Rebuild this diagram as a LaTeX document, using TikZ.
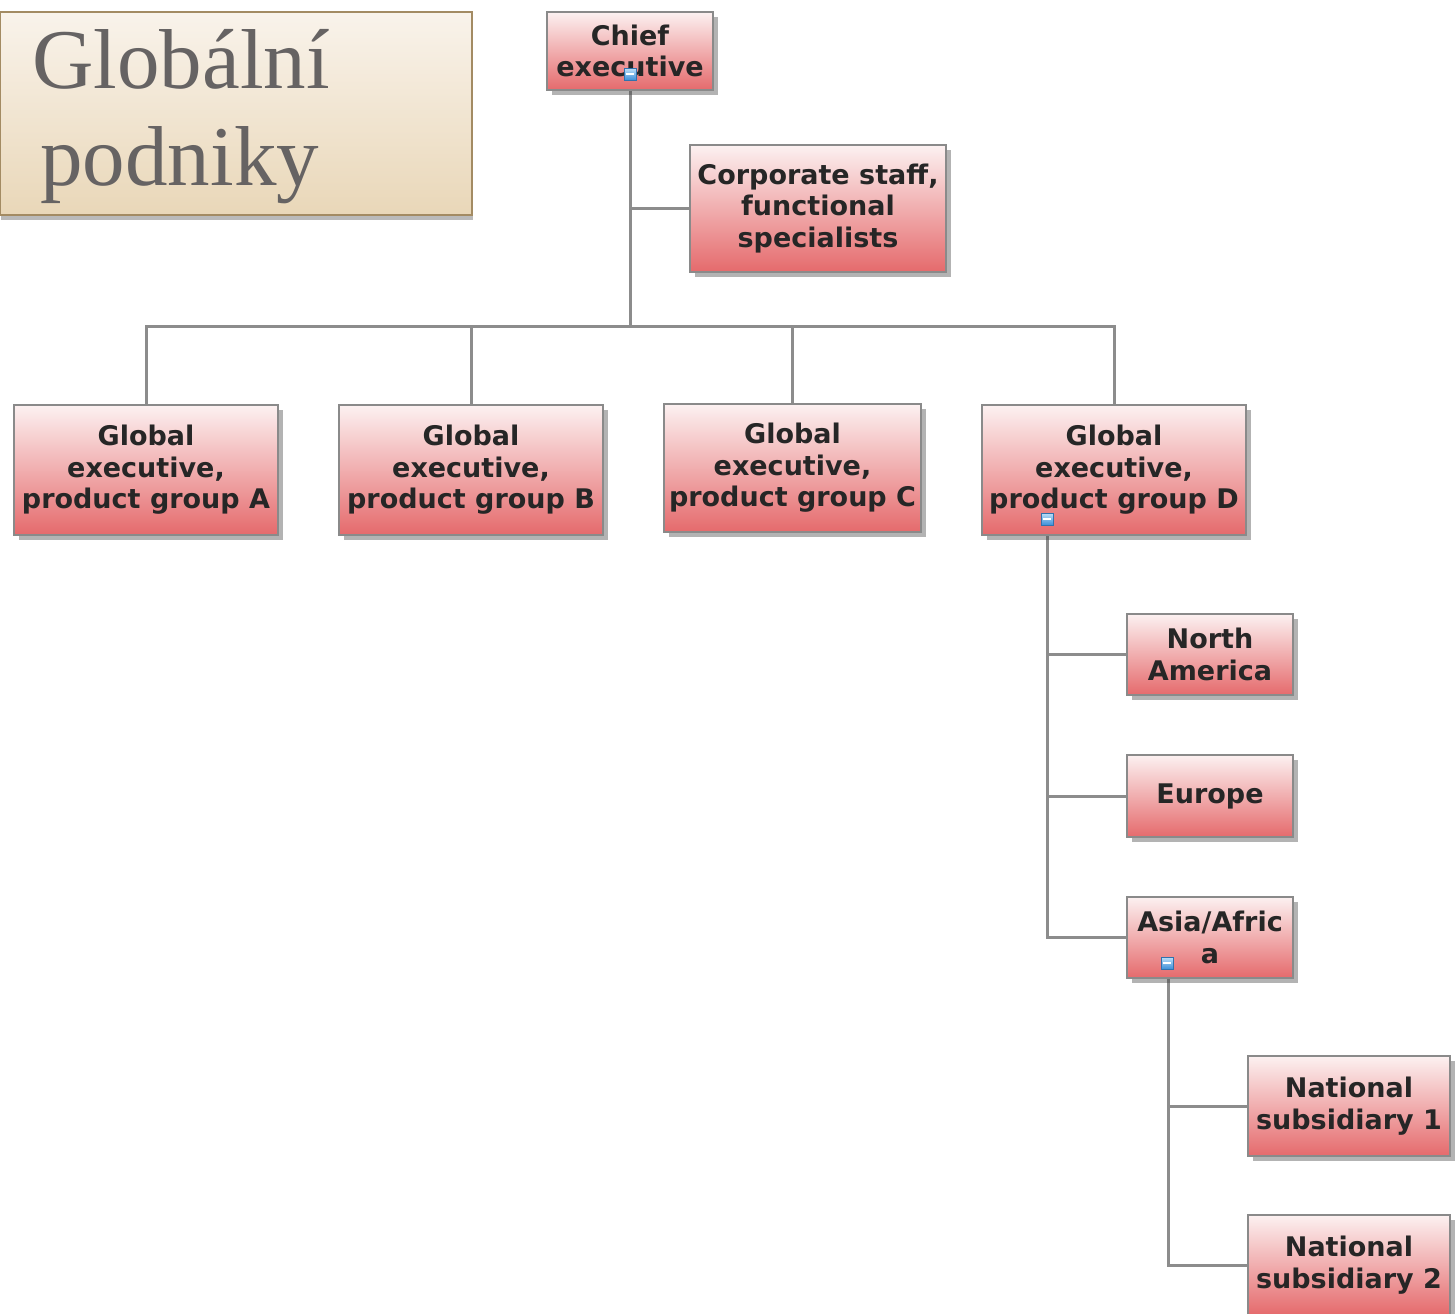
\documentclass[tikz,border=0pt]{standalone}
\usepackage{fontspec}
\setmainfont{Liberation Serif}
\newfontfamily\boxfont{DejaVu Sans}
\usetikzlibrary{shadows}
\pgfdeclarelayer{bg}
\pgfsetlayers{bg,main}
\definecolor{boxtop}{HTML}{FCF1F1}
\definecolor{boxbot}{HTML}{E56A6C}
\definecolor{boxedge}{HTML}{8A8A8A}
\definecolor{linec}{HTML}{8C8C8C}
\definecolor{titletop}{HTML}{F9F3EB}
\definecolor{titlebot}{HTML}{E9D7B8}
\definecolor{titleedge}{HTML}{A38B63}
\definecolor{titletext}{HTML}{666363}
\definecolor{togtop}{HTML}{BFE0F8}
\definecolor{togbot}{HTML}{3C8FD8}
\tikzset{
  orgbox/.style={draw=boxedge, line width=1pt, top color=boxtop, bottom color=boxbot,
    align=center, font=\boxfont\bfseries\fontsize{13.5}{15.8}\selectfont, text=black!85,
    inner sep=0pt, drop shadow={shadow xshift=2.5pt, shadow yshift=-2.5pt, opacity=0.4, fill=black!75}},
  titlebox/.style={draw=titleedge, line width=0.8pt, top color=titletop, bottom color=titlebot,
    inner sep=0pt, drop shadow={shadow xshift=0.5pt, shadow yshift=-2.5pt, opacity=0.45, fill=black!60}},
  titletxt/.style={align=left, font=\fontsize{42.5}{48.5}\selectfont, text=titletext, inner sep=0pt},
  conn/.style={draw=linec, line width=1.5pt},
  toggle/.style={draw=togbot!80!black, line width=0.3pt, top color=togtop, bottom color=togbot,
    minimum width=6pt, minimum height=6pt, inner sep=0pt,
    path picture={\draw[white, line width=0.8pt] ([xshift=-1.8pt]path picture bounding box.center) -- ([xshift=1.8pt]path picture bounding box.center);}}
}
\begin{document}
\begin{tikzpicture}[x=0.5pt, y=-0.5pt]
\useasboundingbox (0,0) rectangle (1455,1313);
% title
\node[titlebox, minimum width=236pt, minimum height=101.5pt] (title) at (236,113.5) {};
\node[titletxt, anchor=base west] (titletext) at (32,185) {Globální\\\hspace{4pt}podniky};
% org boxes
\node[orgbox, minimum width=83pt, minimum height=39pt] (chief) at (630,51) {Chief\\executive};
\node[orgbox, minimum width=128pt, minimum height=63.5pt] (corp) at (818,208.5) {Corporate staff,\\functional\\specialists};
\node[orgbox, minimum width=132pt, minimum height=65pt] (A) at (146,470) {Global\\executive,\\product group A};
\node[orgbox, minimum width=132pt, minimum height=65pt] (B) at (471,470) {Global\\executive,\\product group B};
\node[orgbox, minimum width=128.5pt, minimum height=64pt] (C) at (792.5,468) {Global\\executive,\\product group C};
\node[orgbox, minimum width=132pt, minimum height=65pt] (D) at (1114,470) {Global\\executive,\\product group D};
\node[orgbox, minimum width=83pt, minimum height=40.5pt] (NA) at (1210,654.5) {North\\America};
\node[orgbox, minimum width=83pt, minimum height=41pt] (EU) at (1210,796) {Europe};
\node[orgbox, minimum width=83pt, minimum height=40.5pt] (AA) at (1210,937.5) {Asia/Afric\\a};
\node[orgbox, minimum width=101pt, minimum height=50pt] (NS1) at (1349,1106) {National\\subsidiary 1};
\node[orgbox, minimum width=101pt, minimum height=50pt] (NS2) at (1349,1265) {National\\subsidiary 2};
% ports
\coordinate (bus) at (630,326);
\coordinate (Dport) at ([xshift=-33.5pt]D.south);
\coordinate (AAport) at ([xshift=-21pt]AA.south);
% toggles
\node[toggle] (tchief) at ([yshift=8.5pt]chief.south) {};
\node[toggle] (tD) at ([yshift=8.5pt]Dport) {};
\node[toggle] (tAA) at ([xshift=-0.5pt,yshift=8pt]AAport) {};
% connectors
\begin{pgfonlayer}{bg}
\draw[conn] (chief.south) -- (bus);
\draw[conn] (chief.south |- corp.west) -- (corp.west);
\draw[conn] (A.north) |- (bus) -| (D.north);
\draw[conn] (B.north) -- (B.north |- bus);
\draw[conn] (C.north) -- (C.north |- bus);
\draw[conn] (Dport) |- (AA.west);
\draw[conn] (Dport |- NA.west) -- (NA.west);
\draw[conn] (Dport |- EU.west) -- (EU.west);
\draw[conn] (AAport) |- (NS2.west);
\draw[conn] (AAport |- NS1.west) -- (NS1.west);
\end{pgfonlayer}
\end{tikzpicture}
\end{document}
